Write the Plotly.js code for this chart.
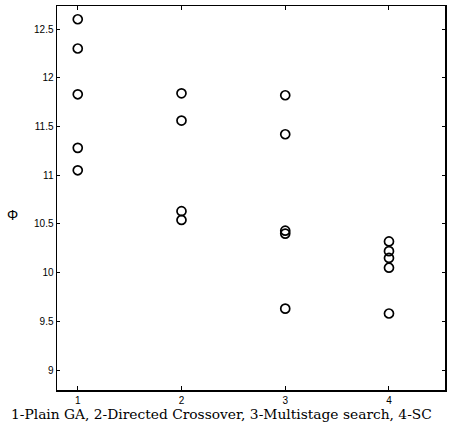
<!DOCTYPE html>
<html><head><meta charset="utf-8">
<script src="https://cdn.plot.ly/plotly-3.0.1.min.js"></script>
<style>html,body{margin:0;padding:0;background:#fff}#chart{width:454px;height:430px}</style>
</head><body><div id="chart"></div>
<script>
const groups = [1, 2, 3, 4];
const tickLabels = ['1', '2', '3', '4'];
const plainGA = [12.60, 12.30, 11.83, 11.28, 11.05];
const directedCrossover = [11.84, 11.56, 10.63, 10.54];
const multistageSearch = [11.82, 11.42, 10.43, 10.40, 9.63];
const sc = [10.32, 10.22, 10.15, 10.05, 9.58];
const yTicks = [9, 9.5, 10, 10.5, 11, 11.5, 12, 12.5];
const xTitle = '1-Plain GA, 2-Directed Crossover, 3-Multistage search, 4-SC';
const yTitle = 'Φ';

const series = [plainGA, directedCrossover, multistageSearch, sc];
const xs = [], ys = [];
series.forEach((s, i) => s.forEach(v => { xs.push(groups[i]); ys.push(v); }));

const trace = {
  x: xs, y: ys, type: 'scatter', mode: 'markers',
  marker: {symbol: 'circle-open', size: 9, color: '#000', line: {width: 1.7, color: '#000'}},
  hoverinfo: 'none'
};

const layout = {
  width: 454, height: 430,
  margin: {l: 57, r: 9, t: 6, b: 40},
  paper_bgcolor: '#fff', plot_bgcolor: '#fff',
  showlegend: false,
  xaxis: {
    range: [0.8, 4.54], tickvals: groups, ticktext: tickLabels,
    ticks: 'inside', ticklen: 4, tickwidth: 1, tickcolor: '#000',
    showline: true, linecolor: '#000', linewidth: 1.5, mirror: 'ticks',
    showgrid: false, zeroline: false,
    tickfont: {family: 'Liberation Sans, Arial, sans-serif', size: 10, color: '#000'}
  },
  yaxis: {
    range: [8.795, 12.736], tickvals: yTicks,
    ticks: 'inside', ticklen: 3, tickwidth: 1, tickcolor: '#000',
    showline: true, linecolor: '#000', linewidth: 1.5, mirror: 'ticks',
    showgrid: false, zeroline: false,
    tickfont: {family: 'Liberation Sans, Arial, sans-serif', size: 10, color: '#000'}
  },
  annotations: [{
    text: yTitle, xref: 'paper', yref: 'paper', x: -0.115, y: 0.455,
    xanchor: 'center', yanchor: 'middle', showarrow: false,
    font: {family: 'Liberation Sans, Arial, sans-serif', size: 14, color: '#000'}
  }, {
    text: xTitle, xref: 'paper', yref: 'paper', x: 0.423, y: -0.062,
    xanchor: 'center', yanchor: 'middle', showarrow: false,
    font: {family: 'DejaVu Serif, serif', size: 13.8, color: '#000'}
  }]
};

Plotly.newPlot('chart', [trace], layout, {staticPlot: true, displayModeBar: false});
</script></body></html>
